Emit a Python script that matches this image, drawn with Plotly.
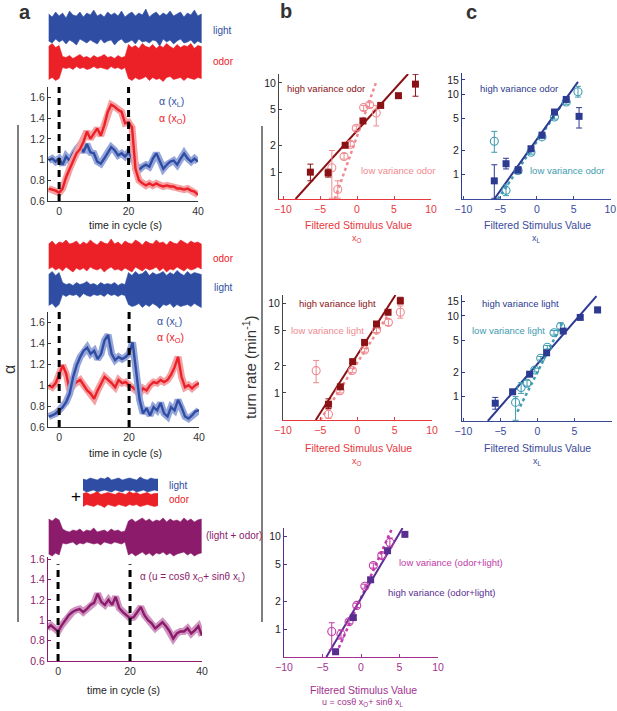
import math
import plotly.graph_objects as go

W, H = 617, 711
FONT = "Liberation Sans, Arial, sans-serif"

# ---------------- panel a: alpha time courses, read at 1 s steps ----------------
t_alpha = list(range(-3, 41))
alpha1_odor = [0.72, 0.71, 0.70, 0.68, 0.72, 0.83, 0.91, 0.99, 1.06, 1.10, 1.17,
               1.27, 1.20, 1.25, 1.30, 1.23, 1.33, 1.46, 1.53, 1.51, 1.48, 1.46,
               1.35, 1.36, 1.31, 0.91, 0.80, 0.77, 0.75, 0.77, 0.75, 0.77, 0.75,
               0.74, 0.75, 0.74, 0.74, 0.72, 0.72, 0.71, 0.72, 0.70, 0.69, 0.66]
alpha1_light = [0.99, 1.01, 0.98, 1.01, 0.95, 1.03, 0.99, 1.06, 1.10, 1.14, 1.07,
                1.15, 1.07, 1.06, 0.98, 0.96, 1.01, 1.07, 1.12, 1.09, 1.04, 1.06,
                1.03, 1.07, 1.01, 0.93, 0.90, 0.93, 0.95, 0.93, 1.01, 1.06, 0.99,
                0.91, 0.95, 0.98, 0.99, 0.95, 1.01, 1.06, 1.01, 0.98, 1.01, 0.98]
alpha2_light = [0.70, 0.71, 0.73, 0.76, 0.79, 0.84, 0.92, 1.08, 1.19, 1.27, 1.33,
                1.36, 1.30, 1.33, 1.25, 1.30, 1.43, 1.48, 1.30, 1.24, 1.27, 1.25,
                1.27, 1.30, 1.41, 1.14, 0.86, 0.73, 0.78, 0.71, 0.79, 0.76, 0.83,
                0.73, 0.70, 0.79, 0.76, 0.86, 0.79, 0.70, 0.68, 0.71, 0.75, 0.76]
alpha2_odor = [1.00, 0.98, 1.02, 1.11, 1.19, 1.11, 0.95, 1.00, 1.03, 1.05, 1.00,
               0.95, 0.92, 0.87, 0.95, 1.02, 1.08, 1.05, 1.02, 0.98, 1.05, 1.02,
               1.03, 1.00, 0.98, 0.95, 0.92, 0.97, 0.95, 1.00, 1.03, 1.02, 1.05,
               1.03, 1.05, 1.10, 1.17, 1.27, 1.08, 0.98, 1.00, 0.97, 1.00, 1.02]
alpha3_mix = [0.92, 0.95, 0.92, 0.89, 0.95, 1.00, 1.05, 1.08, 1.10, 1.11, 1.08,
              1.11, 1.15, 1.17, 1.26, 1.18, 1.15, 1.20, 1.15, 1.23, 1.12, 1.08,
              1.05, 1.02, 1.03, 1.08, 1.13, 1.05, 1.00, 0.97, 0.92, 0.95, 0.98,
              0.94, 0.89, 0.82, 0.87, 0.89, 0.89, 0.92, 0.87, 0.90, 0.94, 0.85]
alpha_ticks = [0.6, 0.8, 1.0, 1.2, 1.4, 1.6]
alpha_ticktext = ["0.6", "0.8", "1", "1.2", "1.4", "1.6"]
time_ticks = [0, 20, 40]
switch_times = [0, 20]

# ---------------- stimulus traces: envelope half-widths (1 s steps) ----------------
t_stim = list(range(-3, 42))
light_a_up = [1.4, 1.1, 1.6, 1.2, 1.5, 1.0, 1.7, 1.3, 1.2, 1.6, 1.1, 1.5, 1.3, 1.8, 1.2,
              1.4, 1.1, 1.6, 1.3, 1.5, 1.2, 1.7, 1.1, 1.4, 1.6, 1.2, 1.5, 1.3, 1.9, 1.1,
              1.4, 1.6, 1.2, 1.5, 1.3, 1.7, 1.2, 1.4, 1.6, 1.1, 1.5, 1.3, 1.8, 1.2, 1.4]
light_a_dn = [1.3, 1.5, 1.1, 1.4, 1.2, 1.6, 1.2, 1.4, 1.7, 1.1, 1.3, 1.5, 1.2, 1.4, 1.6,
              1.1, 1.5, 1.3, 1.2, 1.7, 1.3, 1.1, 1.5, 1.4, 1.2, 1.6, 1.1, 1.4, 1.3, 1.5,
              1.2, 1.3, 1.8, 1.1, 1.4, 1.2, 1.6, 1.3, 1.1, 1.5, 1.4, 1.2, 1.6, 1.3, 1.5]
odor_a_up = [1.6, 1.9, 1.5, 1.7, 0.6, 0.5, 0.7, 0.4, 0.6, 0.8, 0.5, 0.6, 0.4, 0.7, 0.5,
             0.6, 0.8, 0.5, 0.6, 0.4, 0.7, 0.5, 0.6, 1.8, 1.5, 1.7, 1.4, 1.9, 1.6, 1.5,
             1.8, 1.4, 1.7, 1.5, 1.9, 1.6, 1.4, 1.8, 1.5, 1.7, 1.6, 1.9, 1.4, 1.7, 1.6]
odor_a_dn = [1.7, 1.5, 1.8, 1.6, 0.5, 0.6, 0.5, 0.7, 0.4, 0.6, 0.5, 0.7, 0.6, 0.4, 0.6,
             0.5, 0.6, 0.7, 0.4, 0.6, 0.5, 0.7, 0.5, 1.6, 1.8, 1.5, 1.7, 1.6, 1.4, 1.8,
             1.5, 1.7, 1.6, 1.9, 1.5, 1.4, 1.7, 1.6, 1.5, 1.8, 1.5, 1.6, 1.7, 1.5, 1.6]
odor_b_up = [1.2, 1.5, 1.1, 1.4, 1.3, 1.6, 1.2, 1.3, 1.5, 1.1, 1.4, 1.2, 1.6, 1.3, 1.1,
             1.5, 1.3, 1.2, 1.7, 1.2, 1.4, 1.1, 1.5, 1.3, 1.2, 1.6, 1.4, 1.1, 1.5, 1.3,
             1.2, 1.6, 1.3, 1.4, 1.1, 1.5, 1.3, 1.2, 1.6, 1.4, 1.2, 1.5, 1.3, 1.4, 1.2]
odor_b_dn = [1.3, 1.1, 1.4, 1.2, 1.5, 1.1, 1.3, 1.6, 1.2, 1.4, 1.2, 1.5, 1.1, 1.3, 1.4,
             1.2, 1.6, 1.3, 1.1, 1.4, 1.3, 1.5, 1.2, 1.4, 1.6, 1.1, 1.3, 1.5, 1.2, 1.4,
             1.3, 1.1, 1.5, 1.2, 1.6, 1.3, 1.4, 1.1, 1.3, 1.5, 1.2, 1.4, 1.3, 1.1, 1.3]
light_b_up = [1.5, 1.8, 1.4, 1.7, 0.7, 0.5, 0.6, 0.4, 0.7, 0.5, 0.6, 0.8, 0.5, 0.6, 0.4,
              0.7, 0.5, 0.6, 0.5, 0.7, 0.4, 0.6, 0.5, 1.7, 1.4, 1.8, 1.5, 1.6, 1.9, 1.4,
              1.7, 1.5, 1.6, 1.8, 1.4, 1.7, 1.5, 1.9, 1.6, 1.4, 1.8, 1.5, 1.7, 1.6, 1.5]
light_b_dn = [1.6, 1.4, 1.8, 1.5, 0.5, 0.7, 0.5, 0.6, 0.5, 0.8, 0.4, 0.6, 0.7, 0.5, 0.6,
              0.5, 0.7, 0.4, 0.6, 0.5, 0.7, 0.5, 0.6, 1.5, 1.7, 1.6, 1.4, 1.8, 1.5, 1.7,
              1.4, 1.6, 1.9, 1.5, 1.6, 1.4, 1.8, 1.5, 1.7, 1.6, 1.5, 1.7, 1.4, 1.6, 1.8]
mix_up = [1.8, 1.6, 1.9, 1.7, 0.8, 0.6, 0.5, 0.7, 0.6, 0.8, 0.5, 0.7, 0.6, 0.9, 0.5,
          0.6, 0.7, 0.5, 0.8, 0.6, 0.7, 0.5, 0.6, 1.6, 1.8, 1.5, 1.7, 1.9, 1.6, 1.8,
          1.5, 1.7, 1.6, 1.9, 1.5, 1.8, 1.6, 1.7, 1.5, 1.9, 1.6, 1.8, 1.5, 1.7, 1.8]
mix_dn = [1.7, 1.9, 1.6, 1.8, 0.6, 0.7, 0.6, 0.5, 0.8, 0.6, 0.7, 0.5, 0.6, 0.7, 0.6,
          0.8, 0.5, 0.6, 0.7, 0.5, 0.6, 0.7, 0.5, 1.8, 1.6, 1.9, 1.7, 1.5, 1.8, 1.6,
          1.9, 1.6, 1.7, 1.5, 1.8, 1.6, 1.9, 1.7, 1.6, 1.5, 1.8, 1.6, 1.9, 1.7, 1.6]
t_mini = list(range(0, 22))
mini_light_up = [0.6, 0.5, 0.7, 0.6, 0.5, 0.7, 0.6, 0.8, 0.5, 0.6, 0.7,
                 0.5, 0.6, 0.7, 0.6, 0.5, 0.8, 0.6, 0.5, 0.7, 0.6, 0.6]
mini_light_dn = [0.5, 0.7, 0.6, 0.5, 0.7, 0.6, 0.5, 0.6, 0.7, 0.5, 0.6,
                 0.7, 0.5, 0.6, 0.5, 0.7, 0.6, 0.5, 0.7, 0.6, 0.5, 0.6]
mini_odor_up = [0.6, 0.7, 0.5, 0.6, 0.8, 0.5, 0.6, 0.7, 0.6, 0.5, 0.7,
                0.6, 0.5, 0.8, 0.6, 0.7, 0.5, 0.6, 0.7, 0.5, 0.6, 0.6]
mini_odor_dn = [0.7, 0.5, 0.6, 0.7, 0.5, 0.6, 0.8, 0.5, 0.6, 0.7, 0.5,
                0.6, 0.7, 0.5, 0.6, 0.5, 0.7, 0.6, 0.5, 0.6, 0.7, 0.6]

# ---------------- panels b, c: turn rate vs filtered stimulus ----------------
b1_hi_x = [-6.3, -3.9, -1.6, 0.8, 3.2, 5.6, 7.9]
b1_hi_y = [1.0, 0.98, 2.0, 3.75, 5.6, 7.2, 9.7]
b1_hi_top = [1.23, 1.08, 2.10, 3.95, 5.90, 7.60, 12.5]
b1_hi_bot = [0.80, 0.88, 1.90, 3.55, 5.30, 6.80, 7.1]
b1_lo_x = [-3.4, -2.6, -1.75, -0.9, -0.1, 0.9, 1.7, 2.6]
b1_lo_y = [1.12, 0.64, 1.5, 2.05, 3.1, 5.3, 5.7, 4.6]
b1_lo_top = [1.75, 0.80, 1.62, 2.20, 3.30, 5.60, 6.00, 5.60]
b1_lo_bot = [0.51, 0.51, 1.40, 1.95, 2.95, 4.90, 5.30, 3.30]
b1_hi_fit = ([-8.3, 6.9], [0.5, 12.6])
b1_lo_fit = ([-3.0, 2.55], [0.5, 10.0])

b2_hi_x = [-3.9, -2.3, -0.65, 0.95, 2.55, 4.1, 5.75]
b2_hi_y = [0.75, 1.17, 2.23, 3.65, 5.85, 7.9, 10.6]
b2_hi_top = [0.86, 1.22, 2.33, 3.80, 6.10, 8.20, 11.6]
b2_hi_bot = [0.67, 1.12, 2.13, 3.50, 5.60, 7.60, 9.8]
b2_lo_x = [-5.55, -3.9, -2.35, -0.7, 0.95, 2.55, 4.15, 5.75]
b2_lo_y = [1.77, 0.58, 1.06, 1.78, 3.0, 5.0, 6.1, 7.9]
b2_lo_top = [2.30, 0.66, 1.12, 1.88, 3.15, 5.30, 6.60, 9.30]
b2_lo_bot = [1.30, 0.52, 1.00, 1.68, 2.85, 4.70, 5.60, 6.80]
b2_hi_fit = ([-5.6, 5.1], [0.5, 12.3])
b2_lo_fit = ([-5.0, 4.3], [0.5, 7.8])

b3_hi_x = [-3.3, -1.0, 1.25, 3.45, 5.7]
b3_hi_y = [0.57, 1.33, 3.4, 7.0, 10.5]
b3_hi_top = [0.60, 1.40, 3.55, 7.30, 10.9]
b3_hi_bot = [0.54, 1.27, 3.25, 6.70, 10.1]
b3_lo_x = [-3.8, -2.6, -1.55, -0.55, 0.5, 1.6, 2.7, 3.75]
b3_lo_y = [0.94, 0.88, 1.2, 1.8, 2.9, 4.85, 6.2, 8.6]
b3_lo_top = [1.17, 0.98, 1.26, 1.90, 3.05, 5.15, 6.60, 9.60]
b3_lo_bot = [0.60, 0.78, 1.14, 1.71, 2.76, 4.55, 5.80, 7.70]
b3_hi_fit = ([-4.5, 5.4], [0.5, 12.3])
b3_lo_fit = ([-3.2, 4.0], [0.55, 12.0])

c1_hi_x = [-5.8, -4.2, -2.55, -0.8, 0.7, 2.4, 4.0, 5.75]
c1_hi_y = [0.84, 1.37, 1.15, 2.1, 3.1, 6.0, 8.6, 5.3]
c1_hi_top = [1.33, 1.60, 1.25, 2.25, 3.30, 6.40, 9.20, 6.80]
c1_hi_bot = [0.51, 1.18, 1.05, 1.95, 2.90, 5.60, 8.00, 3.80]
c1_lo_x = [-5.8, -4.2, -2.55, -0.8, 0.7, 2.4, 4.0, 5.6]
c1_lo_y = [2.6, 0.64, 1.13, 1.9, 2.95, 5.2, 8.0, 10.7]
c1_lo_top = [3.45, 0.75, 1.20, 2.00, 3.10, 5.50, 8.50, 12.5]
c1_lo_bot = [1.90, 0.55, 1.06, 1.80, 2.80, 4.90, 7.50, 9.20]
c1_hi_fit = ([-5.8, 5.6], [0.5, 14.2])
c1_lo_fit = ([-5.3, 4.2], [0.5, 9.5])

c2_hi_x = [-5.7, -3.35, -1.05, 1.25, 3.5, 5.8, 8.15]
c2_hi_y = [0.83, 1.15, 1.9, 3.5, 6.5, 9.6, 11.9]
c2_hi_top = [0.98, 1.21, 2.00, 3.65, 6.80, 10.1, 12.8]
c2_hi_bot = [0.70, 1.09, 1.80, 3.35, 6.20, 9.10, 11.0]
c2_lo_x = [-2.95, -2.2, -1.4, -0.35, 0.45, 1.35, 2.25, 3.15]
c2_lo_y = [0.85, 1.3, 1.47, 2.14, 3.0, 4.1, 6.2, 7.4]
c2_lo_top = [1.00, 1.50, 1.60, 2.25, 3.15, 4.30, 6.60, 8.20]
c2_lo_bot = [0.51, 1.10, 1.35, 2.03, 2.85, 3.90, 5.80, 6.70]
c2_hi_fit = ([-6.7, 8.0], [0.5, 17.6])
c2_lo_fit = ([-2.7, 3.4], [0.65, 8.3])

x_ticks = [-10, -5, 0, 5, 10]

# colours
BLUE, BLUE_LT = "#2f4ea3", "#97a6da"
RED, RED_LT = "#ec2027", "#f5a0a2"
PURPLE, PURPLE_LT = "#8c1b6c", "#cf95c0"
DKRED, PINK = "#8b1214", "#f08a90"
NAVY, TEAL = "#2c3a92", "#3f9bb0"
VIOLET, MAGENTA = "#5a2d91", "#c13aa8"
RED_AX, MAG_AX, BLUE_AX = "#e8383d", "#a2328e", "#3a4a9c"
INK = "#333333"


def fx(px):
    return px / W


def fy(py):
    return 1 - py / H


fig = go.Figure()
layout = {}
annotations = []
shapes = []


def note(text, x, y, color=INK, size=10, xanchor="left", angle=0, bold=False):
    if bold:
        text = "<b>" + text + "</b>"
    annotations.append(dict(text=text, x=fx(x), y=fy(y), xref="paper", yref="paper",
                            xanchor=xanchor, yanchor="middle", showarrow=False,
                            textangle=angle, font=dict(size=size, color=color, family=FONT)))


# ---- alpha subplots ----
alpha_axes = [
    (1, (48, 198), (87, 201), [-3.2, 40], [0.6, 1.7], INK, INK, 1.0),
    (2, (48, 199), (312, 427), [-3.2, 40], [0.6, 1.7], INK, INK, 1.0),
    (3, (48, 202), (557, 661), [-2.8, 40], [0.6, 1.62], PURPLE, PURPLE, 0.93),
]
for n, xd, yd, xr, yr, lc, yc, dash_top in alpha_axes:
    sfx = "" if n == 1 else str(n)
    layout["xaxis" + sfx] = dict(domain=[fx(xd[0]), fx(xd[1])], range=xr, anchor="y" + sfx,
                                 tickvals=time_ticks, ticks="inside", ticklen=3, showline=True,
                                 linecolor=lc, tickcolor=lc, showgrid=False, zeroline=False,
                                 automargin=False,
                                 tickfont=dict(size=10.5, color=INK, family=FONT))
    layout["yaxis" + sfx] = dict(domain=[fy(yd[1]), fy(yd[0])], range=yr, anchor="x" + sfx,
                                 tickvals=alpha_ticks, ticktext=alpha_ticktext, ticks="inside",
                                 ticklen=3, showline=True, linecolor=lc, tickcolor=lc,
                                 showgrid=False, zeroline=False, automargin=False,
                                 tickfont=dict(size=10.5, color=yc, family=FONT))
    for ts in switch_times:
        shapes.append(dict(type="line", xref="x" + sfx, yref="y" + sfx + " domain",
                           x0=ts, x1=ts, y0=0, y1=dash_top,
                           line=dict(color="black", width=3, dash="7px,5px")))


def alpha_line(n, y, color, light):
    sfx = "" if n == 1 else str(n)
    fig.add_trace(go.Scatter(x=t_alpha, y=y, mode="lines", line=dict(color=light, width=7),
                             xaxis="x" + sfx, yaxis="y" + sfx, hoverinfo="skip"))
    fig.add_trace(go.Scatter(x=t_alpha, y=y, mode="lines", line=dict(color=color, width=2.4),
                             xaxis="x" + sfx, yaxis="y" + sfx))


alpha_line(1, alpha1_light, BLUE, BLUE_LT)
alpha_line(1, alpha1_odor, RED, RED_LT)
alpha_line(2, alpha2_odor, RED, RED_LT)
alpha_line(2, alpha2_light, BLUE, BLUE_LT)
alpha_line(3, alpha3_mix, PURPLE, PURPLE_LT)

# ---- stimulus traces (overlay axes, 1 unit = 10 px) ----
layout["xaxis4"] = dict(domain=[fx(48), fx(202)], range=[-3.2, 41.2], visible=False, anchor="y4")
layout["yaxis4"] = dict(domain=[0, 1], range=[-H / 10, 0], visible=False, anchor="x4")
layout["xaxis5"] = dict(domain=[fx(83), fx(158)], range=[0, 21], visible=False, anchor="y5")
layout["yaxis5"] = dict(domain=[0, 1], range=[-H / 10, 0], visible=False, anchor="x5")


def stim(t, up, dn, center_px, color, ax):
    c = -center_px / 10
    xs = list(t) + list(t)[::-1]
    ys = [c + u for u in up] + [c - d for d in dn][::-1]
    fig.add_trace(go.Scatter(x=xs, y=ys, mode="lines", fill="toself", fillcolor=color,
                             line=dict(color=color, width=0.6), xaxis="x" + ax, yaxis="y" + ax,
                             hoverinfo="skip"))


stim(t_stim, light_a_up, light_a_dn, 28, BLUE, "4")
stim(t_stim, odor_a_up, odor_a_dn, 62.5, RED, "4")
stim(t_stim, odor_b_up, odor_b_dn, 256, RED, "4")
stim(t_stim, light_b_up, light_b_dn, 289.5, BLUE, "4")
stim(t_stim, mix_up, mix_dn, 537, PURPLE, "4")
stim(t_mini, mini_light_up, mini_light_dn, 485, BLUE, "5")
stim(t_mini, mini_odor_up, mini_odor_dn, 499.5, RED, "5")

# ---- scatter panels ----
panels = [
    dict(n=6, xd=(279, 431), yd=(74, 199), xr=[-10.54, 10], yr=[0.5, 12.6], yt=[1, 2, 5, 10],
         axc=RED_AX, ylc="#444444", hic=DKRED, loc=PINK,
         hi=(b1_hi_x, b1_hi_y, b1_hi_top, b1_hi_bot), lo=(b1_lo_x, b1_lo_y, b1_lo_top, b1_lo_bot),
         hifit=b1_hi_fit, lofit=b1_lo_fit),
    dict(n=7, xd=(283, 432), yd=(295, 420), xr=[-10, 10], yr=[0.5, 12.3], yt=[1, 2, 5, 10],
         axc=RED_AX, ylc="#444444", hic=DKRED, loc=PINK,
         hi=(b2_hi_x, b2_hi_y, b2_hi_top, b2_hi_bot), lo=(b2_lo_x, b2_lo_y, b2_lo_top, b2_lo_bot),
         hifit=b2_hi_fit, lofit=b2_lo_fit),
    dict(n=8, xd=(284, 438), yd=(528, 657), xr=[-10, 10], yr=[0.5, 12.3], yt=[1, 2, 5, 10],
         axc=MAG_AX, ylc=VIOLET, hic=VIOLET, loc=MAGENTA,
         hi=(b3_hi_x, b3_hi_y, b3_hi_top, b3_hi_bot), lo=(b3_lo_x, b3_lo_y, b3_lo_top, b3_lo_bot),
         hifit=b3_hi_fit, lofit=b3_lo_fit),
    dict(n=9, xd=(462, 611), yd=(73, 199), xr=[-10.2, 10.1], yr=[0.5, 18.3], yt=[1, 2, 5, 10, 15],
         axc=BLUE_AX, ylc=NAVY, hic=NAVY, loc=TEAL,
         hi=(c1_hi_x, c1_hi_y, c1_hi_top, c1_hi_bot), lo=(c1_lo_x, c1_lo_y, c1_lo_top, c1_lo_bot),
         hifit=c1_hi_fit, lofit=c1_lo_fit),
    dict(n=10, xd=(462, 612), yd=(295, 421), xr=[-10.2, 10.1], yr=[0.5, 18.2], yt=[1, 2, 5, 10, 15],
         axc=BLUE_AX, ylc=NAVY, hic=NAVY, loc=TEAL,
         hi=(c2_hi_x, c2_hi_y, c2_hi_top, c2_hi_bot), lo=(c2_lo_x, c2_lo_y, c2_lo_top, c2_lo_bot),
         hifit=c2_hi_fit, lofit=c2_lo_fit),
]

for p in panels:
    s = str(p["n"])
    layout["xaxis" + s] = dict(domain=[fx(p["xd"][0]), fx(p["xd"][1])], range=p["xr"], anchor="y" + s,
                               tickvals=x_ticks, ticks="inside", ticklen=3, showline=True,
                               linecolor=p["axc"], tickcolor=p["axc"], showgrid=False, zeroline=False,
                               automargin=False,
                               tickfont=dict(size=10.5, color=p["axc"], family=FONT))
    layout["yaxis" + s] = dict(domain=[fy(p["yd"][1]), fy(p["yd"][0])], type="log",
                               range=[math.log10(p["yr"][0]), math.log10(p["yr"][1])],
                               anchor="x" + s, tickvals=p["yt"], ticktext=[str(v) for v in p["yt"]],
                               ticks="inside", ticklen=3, showline=True, linecolor=p["ylc"],
                               tickcolor=p["ylc"], showgrid=False, zeroline=False, automargin=False,
                               tickfont=dict(size=10.5, color="#222222", family=FONT))
    # fit lines
    fig.add_trace(go.Scatter(x=p["lofit"][0], y=p["lofit"][1], mode="lines",
                             line=dict(color=p["loc"], width=2.5, dash="dot"),
                             xaxis="x" + s, yaxis="y" + s))
    fig.add_trace(go.Scatter(x=p["hifit"][0], y=p["hifit"][1], mode="lines",
                             line=dict(color=p["hic"], width=2),
                             xaxis="x" + s, yaxis="y" + s))
    # open circles (low variance)
    lx, ly, lt, lb = p["lo"]
    fig.add_trace(go.Scatter(
        x=lx, y=ly, mode="markers", xaxis="x" + s, yaxis="y" + s,
        marker=dict(symbol="circle-open", size=8, color=p["loc"], line=dict(width=1.1, color=p["loc"])),
        error_y=dict(type="data", symmetric=False, array=[t - y for t, y in zip(lt, ly)],
                     arrayminus=[y - b for y, b in zip(ly, lb)], color=p["loc"], thickness=1, width=3)))
    # filled squares (high variance)
    hx, hy, ht, hb = p["hi"]
    fig.add_trace(go.Scatter(
        x=hx, y=hy, mode="markers", xaxis="x" + s, yaxis="y" + s,
        marker=dict(symbol="square", size=7, color=p["hic"]),
        error_y=dict(type="data", symmetric=False, array=[t - y for t, y in zip(ht, hy)],
                     arrayminus=[y - b for y, b in zip(hy, hb)], color=p["hic"], thickness=1, width=3)))

# ---- text ----
note("a", 25, 12, INK, 20, "center", bold=True)
note("b", 286, 11, INK, 20, "center", bold=True)
note("c", 471, 12, INK, 20, "center", bold=True)

note("light", 211, 30, BLUE)
note("odor", 211, 61, RED)
note("odor", 211, 258, RED)
note("light", 212, 288, BLUE)
note("light", 167, 485, BLUE)
note("odor", 167, 499, RED)
note("+", 76, 496, "black", 17, "center")
note("(light + odor)", 204, 535, PURPLE)

note("α (x<sub>L</sub>)", 157, 102, BLUE, 10.5)
note("α (x<sub>O</sub>)", 157, 119, RED, 10.5)
note("α (x<sub>L</sub>)", 155, 322, BLUE, 10.5)
note("α (x<sub>O</sub>)", 155, 338, RED, 10.5)
note("α (u = cosθ x<sub>O</sub>+ sinθ x<sub>L</sub>)", 138, 577, PURPLE, 10)

note("time in cycle (s)", 125, 225, "#222222", 10.5, "center")
note("time in cycle (s)", 125, 453, "#222222", 10.5, "center")
note("time in cycle (s)", 123, 690, "#222222", 10.5, "center")

note("α", 9, 370, INK, 16, "center", angle=-90)
note("turn rate (min<sup>-1</sup>)", 249, 367, INK, 15, "center", angle=-90)

note("Filtered Stimulus Value", 358, 225, RED_AX, 10.5, "center")
note("x<sub>O</sub>", 357, 238, RED_AX, 9, "center")
note("Filtered Stimulus Value", 358, 448, RED_AX, 10.5, "center")
note("x<sub>O</sub>", 357, 462, RED_AX, 9, "center")
note("Filtered Stimulus Value", 363, 690, MAG_AX, 10.5, "center")
note("u = cosθ x<sub>O</sub>+ sinθ x<sub>L</sub>", 362, 702, MAG_AX, 9, "center")
note("Filtered Stimulus Value", 537, 225, BLUE_AX, 10.5, "center")
note("x<sub>L</sub>", 536, 238, BLUE_AX, 9, "center")
note("Filtered Stimulus Value", 537, 448, BLUE_AX, 10.5, "center")
note("x<sub>L</sub>", 537, 462, BLUE_AX, 9, "center")

note("high variance odor", 285, 89, DKRED, 9.5)
note("low variance odor", 359, 170, PINK, 9.5)
note("high variance light", 297, 303, DKRED, 9.5)
note("low variance light", 289, 330, PINK, 9.5)
note("low variance (odor+light)", 397, 562, MAGENTA, 9.5)
note("high variance (odor+light)", 386, 592, VIOLET, 9.5)
note("high variance odor", 478, 89, NAVY, 9.5)
note("low variance odor", 528, 170, TEAL, 9.5)
note("high variance light", 480, 303, NAVY, 9.5)
note("low variance light", 470, 331, TEAL, 9.5)

# vertical bars next to the shared y labels
shapes.append(dict(type="line", xref="paper", yref="paper", x0=fx(18), x1=fx(18),
                   y0=fy(622), y1=fy(125), line=dict(color="#555555", width=1.5)))
shapes.append(dict(type="line", xref="paper", yref="paper", x0=fx(262), x1=fx(262),
                   y0=fy(622), y1=fy(126), line=dict(color="#555555", width=1.5)))

fig.update_layout(**layout)
fig.update_layout(autosize=True, template="none",
                  margin=dict(l=0, r=0, t=0, b=0, pad=0, autoexpand=False), showlegend=False,
                  plot_bgcolor="rgba(0,0,0,0)", paper_bgcolor="white", annotations=annotations,
                  shapes=shapes, font=dict(family=FONT))
# pin the graph div to the page corner so the body margin does not shift it
fig.write_html("out.html", default_width=f"{W}px",
               default_height=f"{H}px; position:absolute; left:0px; top:0px",
               post_script="document.body.style.margin='0px';",
               config={"displayModeBar": False, "responsive": False})
